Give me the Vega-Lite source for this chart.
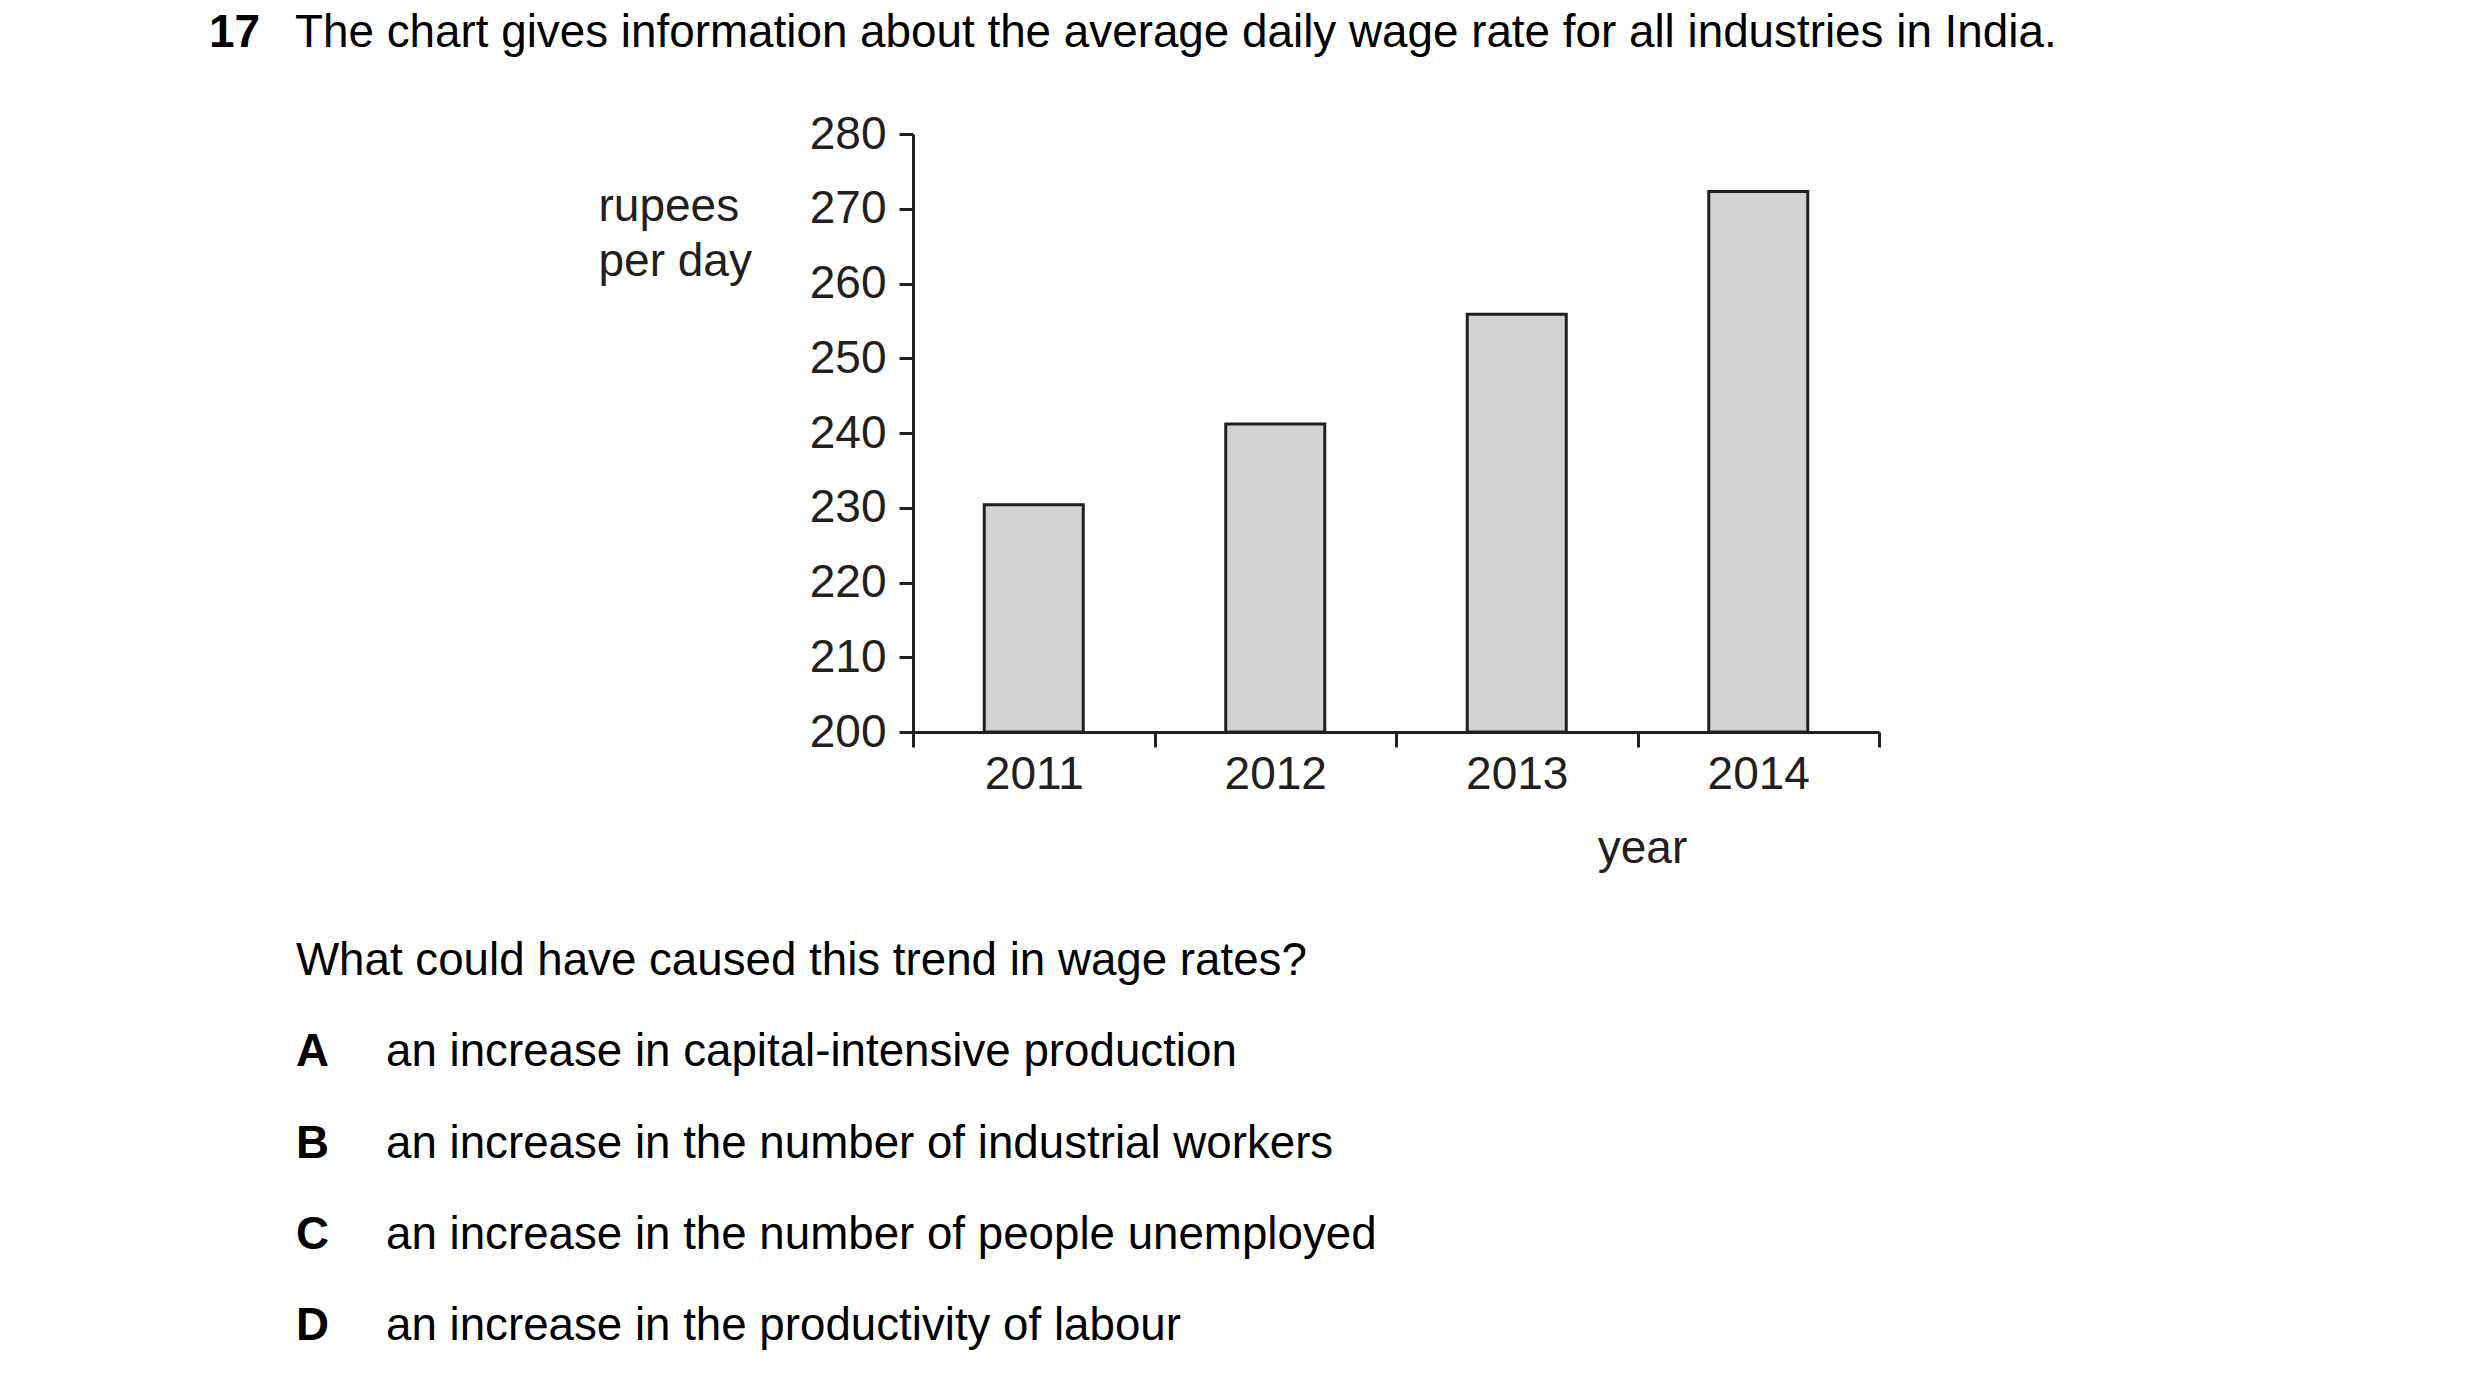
{
  "$schema": "https://vega.github.io/schema/vega-lite/v6.json",
  "description": "Average daily wage rate for all industries in India, exam question layout.",
  "width": 966,
  "height": 598,
  "autosize": "none",
  "padding": {"left": 913, "top": 134, "right": 601, "bottom": 657},
  "background": "white",
  "datasets": {
    "wages": [
      {"year": "2011", "wage": 230.4},
      {"year": "2012", "wage": 241.2},
      {"year": "2013", "wage": 255.9},
      {"year": "2014", "wage": 272.3}
    ],
    "header": [
      {"kind": "number", "col": 0, "row": 0, "text": "17"},
      {"kind": "sentence", "col": 1, "row": 0, "text": "The chart gives information about the average daily wage rate for all industries in India."}
    ],
    "question": [
      {"kind": "sentence", "col": 1, "row": 0, "text": "What could have caused this trend in wage rates?"},
      {"kind": "letter", "col": 1, "row": 1, "text": "A"},
      {"kind": "sentence", "col": 2, "row": 1, "text": "an increase in capital-intensive production"},
      {"kind": "letter", "col": 1, "row": 2, "text": "B"},
      {"kind": "sentence", "col": 2, "row": 2, "text": "an increase in the number of industrial workers"},
      {"kind": "letter", "col": 1, "row": 3, "text": "C"},
      {"kind": "sentence", "col": 2, "row": 3, "text": "an increase in the number of people unemployed"},
      {"kind": "letter", "col": 1, "row": 4, "text": "D"},
      {"kind": "sentence", "col": 2, "row": 4, "text": "an increase in the productivity of labour"}
    ]
  },
  "layer": [
    {
      "data": {"name": "wages"},
      "mark": {"type": "bar", "fill": "#d1d2d4", "stroke": "#231f20", "strokeWidth": 3, "width": {"band": 0.41}},
      "encoding": {
        "x": {
          "field": "year",
          "type": "nominal",
          "scale": {"paddingInner": 0, "paddingOuter": 0},
          "axis": {
            "title": "year",
            "titleX": 729,
            "titleY": 130,
            "titleAlign": "center",
            "titleBaseline": "alphabetic",
            "labelAngle": 0,
            "labelPadding": 5,
            "tickBand": "extent",
            "tickSize": 15
          }
        },
        "y": {
          "field": "wage",
          "type": "quantitative",
          "scale": {"domain": [200, 280], "zero": false, "nice": false},
          "axis": {
            "title": ["rupees", "per day"],
            "titleAngle": 0,
            "titleAlign": "left",
            "titleBaseline": "alphabetic",
            "titleX": -315,
            "titleY": 86,
            "titleLineHeight": 55,
            "values": [200, 210, 220, 230, 240, 250, 260, 270, 280],
            "grid": false,
            "tickSize": 14,
            "labelPadding": 13
          }
        },
        "y2": {"datum": 200}
      }
    },
    {
      "data": {"name": "header"},
      "encoding": {
        "x": {"field": "col", "type": "quantitative", "scale": {"domain": [0, 1], "range": [-704, -618]}, "axis": null},
        "y": {"field": "row", "type": "quantitative", "scale": {"domain": [0, 1], "range": [-87, 3]}, "axis": null},
        "text": {"field": "text"}
      },
      "layer": [
        {
          "transform": [{"filter": "datum.kind == 'number'"}],
          "mark": {"type": "text", "align": "left", "baseline": "alphabetic", "font": "Liberation Sans", "fontSize": 46, "fontWeight": "bold", "color": "#000000"}
        },
        {
          "transform": [{"filter": "datum.kind == 'sentence'"}],
          "mark": {"type": "text", "align": "left", "baseline": "alphabetic", "font": "Liberation Sans", "fontSize": 45.8, "color": "#000000"}
        }
      ]
    },
    {
      "data": {"name": "question"},
      "encoding": {
        "x": {"field": "col", "type": "quantitative", "scale": {"domain": [1, 2], "range": [-617, -527]}, "axis": null},
        "y": {"field": "row", "type": "quantitative", "scale": {"domain": [0, 4], "range": [841, 1206]}, "axis": null},
        "text": {"field": "text"}
      },
      "layer": [
        {
          "transform": [{"filter": "datum.kind == 'letter'"}],
          "mark": {"type": "text", "align": "left", "baseline": "alphabetic", "font": "Liberation Sans", "fontSize": 45.7, "fontWeight": "bold", "color": "#000000"}
        },
        {
          "transform": [{"filter": "datum.kind == 'sentence'"}],
          "mark": {"type": "text", "align": "left", "baseline": "alphabetic", "font": "Liberation Sans", "fontSize": 45.7, "color": "#000000"}
        }
      ]
    }
  ],
  "resolve": {"scale": {"x": "independent", "y": "independent"}},
  "config": {
    "view": {"stroke": null},
    "font": "Liberation Sans",
    "axis": {
      "domainColor": "#231f20",
      "domainWidth": 3,
      "tickColor": "#231f20",
      "tickWidth": 3,
      "labelColor": "#231f20",
      "labelFont": "Liberation Sans",
      "labelFontSize": 46,
      "titleColor": "#231f20",
      "titleFont": "Liberation Sans",
      "titleFontSize": 46,
      "titleFontWeight": "normal"
    }
  }
}
